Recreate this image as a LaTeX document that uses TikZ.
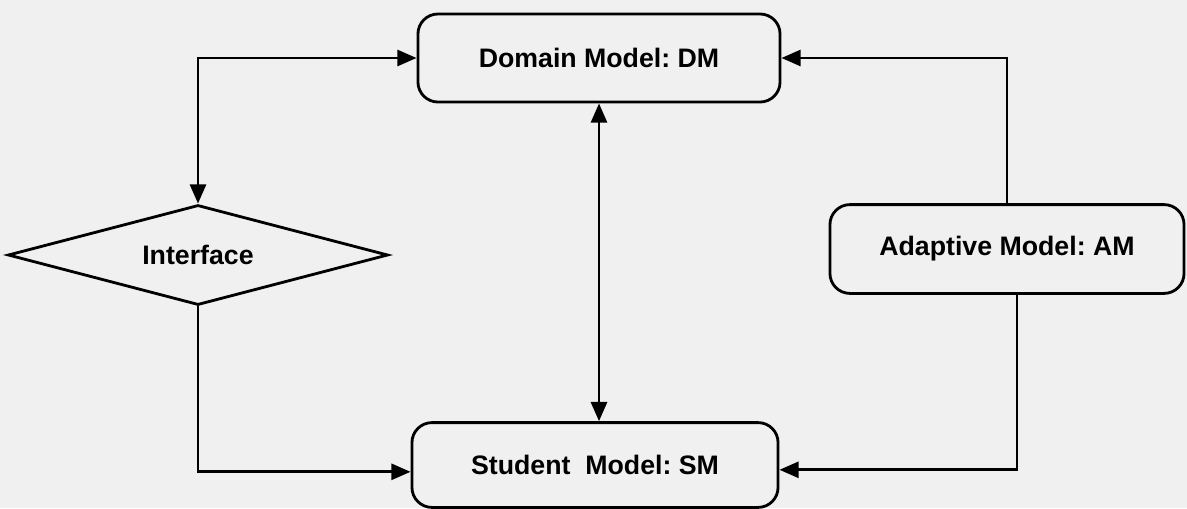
\documentclass[tikz,border=0pt]{standalone}
\usepackage{fontspec}
\setmainfont{Liberation Sans}
\usepackage{tikz}
\usetikzlibrary{arrows.meta,shapes.geometric}
\definecolor{paper}{RGB}{240,240,240}
\frenchspacing
\tikzstyle{model}=[draw=black, line width=2pt, rounded corners=0.5cm, inner sep=0pt, font=\fontsize{19}{21}\selectfont\bfseries]
\tikzstyle{decision}=[diamond, draw=black, line width=2pt, aspect=3.8, minimum width=9.5cm, minimum height=2.5cm, inner sep=0pt, font=\fontsize{19}{21}\selectfont\bfseries]
\tikzstyle{arrow}=[draw=black, line width=2pt, >={Triangle[length=0.48cm, width=0.4cm]}]

\begin{document}
\begin{tikzpicture}[x=0.025cm, y=-0.025cm]
	\fill[paper] (0,0) rectangle (1187,508);
	\useasboundingbox (0,0) rectangle (1187,508);
	\begin{scope}
		\node (dm) at (599, 58)[model, minimum width=9.05cm, minimum height=2.2cm] {Domain Model: DM};
		\node (iface) at (198, 255)[decision] {Interface};
		\node (am) at (1007, 249)[model, minimum width=8.85cm, minimum height=2.22cm] {Adaptive Model: AM};
		\node (sm) at (595, 465)[model, minimum width=9.15cm, minimum height=2.12cm] {Student\ \ Model: SM};
	\end{scope}
	\begin{scope}
		\path [arrow, <->] (iface.north) |- (dm.west);
		\path [arrow, ->] (iface.south) |- ([yshift=-0.17cm]sm.west);
		\path [arrow, <->] (dm.south) -- (dm.south |- sm.north);
		\path [arrow, ->] (am.north) |- (dm.east);
		\path [arrow, ->] ([xshift=0.25cm]am.south) |- ([yshift=-0.12cm]sm.east);
	\end{scope}
\end{tikzpicture}
\end{document}
